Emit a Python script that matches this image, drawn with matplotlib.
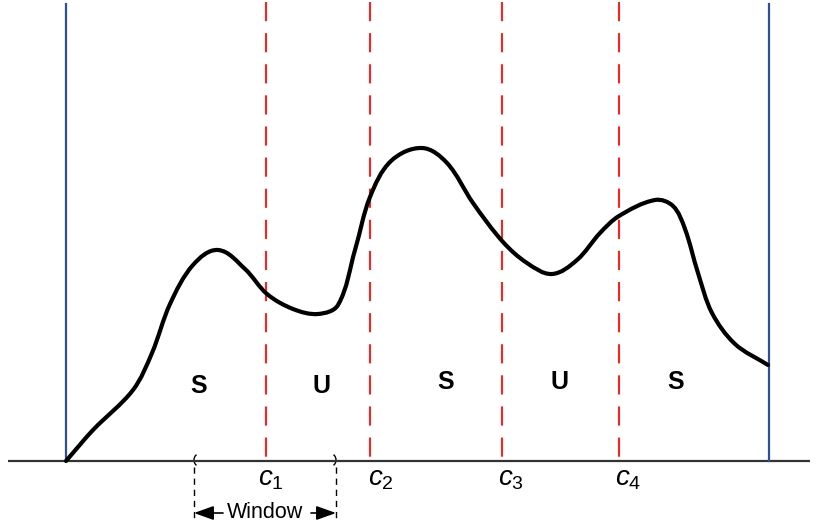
import numpy as np
import matplotlib
matplotlib.use("Agg")
import matplotlib.pyplot as plt
from matplotlib.path import Path
from matplotlib.patches import PathPatch, Arc

plt.rcParams['font.family'] = ['Liberation Sans', 'DejaVu Sans']
plt.rcParams['mathtext.fontset'] = 'custom'
plt.rcParams['mathtext.it'] = 'Liberation Sans:italic'
plt.rcParams['mathtext.rm'] = 'Liberation Sans'
plt.rcParams['lines.scale_dashes'] = False

# ---- data (x: horizontal position, y: height above baseline) ----
curve_x = [0, 27, 67, 86, 104, 127, 152, 179, 201, 227, 252, 272, 289, 304, 325,
           356, 381, 407, 437, 461, 486, 511, 534, 553, 589, 607, 619, 632,
           646, 669, 702]
curve_y = [0, 31, 71, 108, 157, 196, 211, 192, 167, 152, 147, 156, 211, 264, 300,
           313, 298, 258, 219, 198, 187, 201, 228, 245, 261, 255, 232, 188,
           148, 117, 96]
cuts = [200, 304, 436, 553]
cut_labels = [r'$c_1$', r'$c_2$', r'$c_3$', r'$c_4$']
segment_labels = ['S', 'U', 'S', 'U', 'S']
segment_x = [133, 256, 380, 494, 610]
segment_y = [75, 75, 79, 79, 79]
bounds = [0, 703]
window = [128, 270]
window_label = 'Window'

fig = plt.figure(figsize=(8.19, 5.29), dpi=100)
ax = fig.add_axes([0, 0, 1, 1])
ax.set_xlim(-66, 753)
ax.set_ylim(-68, 461)
ax.axis('off')

# baseline
ax.plot([-58, 744], [0, 0], color='#333333', lw=1.6, solid_capstyle='butt', zorder=2)

# boundary lines
for b in bounds:
    ax.plot([b, b], [0, 457], color='#2c4fa0', lw=1.6, zorder=2)

# cut lines
for c in cuts:
    ax.plot([c, c], [459, 0], color='#ff2020', lw=1.5,
            linestyle=(0, (13.8, 8.6)), zorder=1)

# smooth curve through the points (cubic Bezier, chord-scaled tangents)
P = np.column_stack([curve_x, curve_y]).astype(float)
n = len(P)
T = np.zeros_like(P)
for i in range(n):
    a = P[max(i - 1, 0)]
    b = P[min(i + 1, n - 1)]
    d = b - a
    T[i] = d / np.hypot(*d)
verts = [P[0]]
codes = [Path.MOVETO]
for i in range(n - 1):
    p1, p2 = P[i], P[i + 1]
    L = np.hypot(*(p2 - p1)) / 3.0
    verts += [p1 + T[i] * L, p2 - T[i + 1] * L, p2]
    codes += [Path.CURVE4] * 3
ax.add_patch(PathPatch(Path(verts, codes), fill=False, edgecolor='black',
                       lw=3.0, capstyle='round', joinstyle='round', zorder=3))

# segment labels
for lab, sx, sy in zip(segment_labels, segment_x, segment_y):
    ax.text(sx, sy, lab, ha='center', va='center', fontsize=18,
            fontweight='bold', color='black')

# cut labels
label_dx = [-8, -2, -4, -4]
for c, lab, dx in zip(cuts, cut_labels, label_dx):
    ax.text(c + dx, -25, lab, ha='left', va='baseline', fontsize=20, color='black')

# window brackets
wl, wr = window
ax.add_patch(Arc((wl + 7, 1), 14, 14, theta1=130, theta2=230, color='black', lw=1.0))
ax.add_patch(Arc((wr - 7, 1), 14, 14, theta1=-50, theta2=50, color='black', lw=1.0))
for w in window:
    ax.plot([w, w], [-6, -60], color='black', lw=1.0, linestyle=(0, (4.5, 3.5)))

wmid = (wl + wr) / 2 + 0.5
ax.text(wmid, -52, window_label, ha='center', va='center', fontsize=15.5)
ap = dict(arrowstyle='-|>,head_length=12,head_width=4.3', mutation_scale=1,
          lw=1.2, color='black', shrinkA=0, shrinkB=0)
ax.annotate('', xy=(wl, -52), xytext=(wl + 29, -52), arrowprops=ap)
ax.annotate('', xy=(wr, -52), xytext=(wr - 25, -52), arrowprops=ap)

fig.savefig('out.png', dpi=100)
